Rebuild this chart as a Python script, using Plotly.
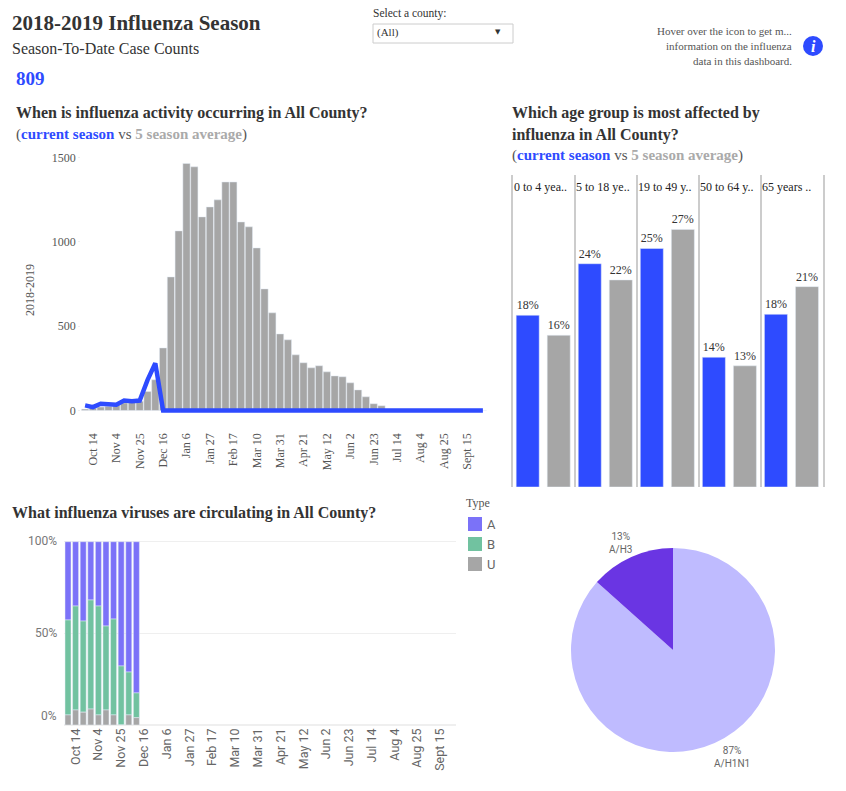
import plotly.graph_objects as go

PAGE_MARGIN = 8
W, H = 846 - 2 * PAGE_MARGIN, 791 - 2 * PAGE_MARGIN
SERIF = "Liberation Serif"
SANS = "Roboto"
BLUE = "#2E4BFF"
GREY = "#A6A6A6"
TYPE_COLORS = ["#7B72F8", "#71C2A0", GREY]

weeks = ["Oct 7", "Oct 14", "Oct 21", "Oct 28", "Nov 4", "Nov 11", "Nov 18", "Nov 25",
         "Dec 2", "Dec 9", "Dec 16", "Dec 23", "Dec 30", "Jan 6", "Jan 13", "Jan 20", "Jan 27",
         "Feb 3", "Feb 10", "Feb 17", "Feb 24", "Mar 3", "Mar 10", "Mar 17", "Mar 24", "Mar 31",
         "Apr 7", "Apr 14", "Apr 21", "Apr 28", "May 5", "May 12", "May 19", "May 26",
         "Jun 2", "Jun 9", "Jun 16", "Jun 23", "Jun 30", "Jul 7", "Jul 14", "Jul 21", "Jul 28",
         "Aug 4", "Aug 11", "Aug 18", "Aug 25", "Sept 1", "Sept 8", "Sept 15", "Sept 22", "Sept 29"]
week_ticks = ["Oct 14", "Nov 4", "Nov 25", "Dec 16", "Jan 6", "Jan 27", "Feb 17", "Mar 10", "Mar 31",
              "Apr 21", "May 12", "Jun 2", "Jun 23", "Jul 14", "Aug 4", "Aug 25", "Sept 15"]

avg_cases = [8, 14, 20, 25, 35, 45, 55, 55, 112, 182, 371, 792, 1065, 1465, 1445, 1148, 1207,
             1249, 1355, 1355, 1118, 1089, 964, 721, 579, 454, 419, 330, 283, 253, 265, 229,
             205, 200, 164, 122, 81, 40, 28, 0, 0, 0, 0, 0, 0, 0, 0, 0, 0, 0, 0, 0]
cur_cases = [30, 20, 40, 34, 34, 59, 55, 59, 180, 280, 0, 0, 0, 0, 0, 0, 0, 0, 0, 0, 0, 0, 0, 0, 0, 0,
             0, 0, 0, 0, 0, 0, 0, 0, 0, 0, 0, 0, 0, 0, 0, 0, 0, 0, 0, 0, 0, 0, 0, 0, 0, 0]

age_groups = ["0 to 4 yea..", "5 to 18 ye..", "19 to 49 y..", "50 to 64 y..", "65 years .."]
age_current = [18.0, 23.4, 25.0, 13.6, 18.1]
age_average = [15.9, 21.7, 27.0, 12.7, 21.0]
age_current_text = ["18%", "24%", "25%", "14%", "18%"]
age_average_text = ["16%", "22%", "27%", "13%", "21%"]

virus_weeks = weeks[:10]
type_u = [5.5, 8.2, 7.0, 8.7, 5.5, 8.2, 5.5, 0.0, 5.5, 4.0]
type_b = [51.8, 56.7, 49.7, 59.5, 59.4, 45.8, 52.3, 32.2, 23.4, 13.5]
type_a = [42.7, 35.1, 43.3, 31.8, 35.1, 46.0, 42.2, 67.8, 71.1, 82.5]
base_b = type_u
base_a = [u + b for u, b in zip(type_u, type_b)]

subtypes = ["A/H1N1", "A/H3"]
subtype_share = [86.6, 13.4]
subtype_text = ["87%", "13%"]


# the page body sits 8px in, positions below are measured on the full window
def px(x):
    return (x - PAGE_MARGIN) / W


def py(y):
    return 1 - (y - PAGE_MARGIN) / H


def note(text, x, y, size, color="#333333", family=SERIF, anchor="left", angle=0):
    fig.add_annotation(text=text, x=px(x), y=py(y), xref="paper", yref="paper", showarrow=False,
                       xanchor=anchor, yanchor="middle", align=anchor, borderpad=0, borderwidth=0,
                       textangle=angle, font=dict(size=size, color=color, family=family))


fig = go.Figure()

# season chart
fig.add_trace(go.Bar(x=weeks, y=avg_cases, marker_color=GREY, width=0.93, showlegend=False,
                     xaxis="x", yaxis="y"))
fig.add_trace(go.Scatter(x=weeks, y=cur_cases, mode="lines", line=dict(color=BLUE, width=4.5),
                         showlegend=False, xaxis="x", yaxis="y"))

# age chart
fig.add_trace(go.Bar(x=age_groups, y=age_current, marker_color=BLUE, width=0.371, offset=-0.444,
                     text=age_current_text, textposition="outside", cliponaxis=False,
                     textfont=dict(size=12, color="#333333", family=SERIF), showlegend=False,
                     xaxis="x2", yaxis="y2"))
fig.add_trace(go.Bar(x=age_groups, y=age_average, marker_color=GREY, width=0.371, offset=0.056,
                     text=age_average_text, textposition="outside", cliponaxis=False,
                     textfont=dict(size=12, color="#333333", family=SERIF), showlegend=False,
                     xaxis="x2", yaxis="y2"))

# virus type chart
fig.add_trace(go.Bar(name="A", x=virus_weeks, y=type_a, base=base_a, marker_color=TYPE_COLORS[0], width=0.79,
                     showlegend=False, xaxis="x3", yaxis="y3"))
fig.add_trace(go.Bar(name="B", x=virus_weeks, y=type_b, base=base_b, marker_color=TYPE_COLORS[1], width=0.79,
                     showlegend=False, xaxis="x3", yaxis="y3"))
fig.add_trace(go.Bar(name="U", x=virus_weeks, y=type_u, marker_color=TYPE_COLORS[2], width=0.79,
                     showlegend=False, xaxis="x3", yaxis="y3"))

fig.add_trace(go.Pie(labels=subtypes, values=subtype_share, sort=False, direction="clockwise", rotation=0,
                     marker=dict(colors=["#BFBBFF", "#6A35E3"]), textinfo="none",
                     domain=dict(x=[px(571), px(775)], y=[py(752), py(548)]), showlegend=False))

shapes = [
    dict(type="rect", xref="paper", yref="paper", x0=px(373), x1=px(513), y0=py(43), y1=py(24),
         line=dict(color="#CCCCCC", width=1), fillcolor="white"),
    dict(type="circle", xref="paper", yref="paper", x0=px(803), x1=px(823), y0=py(56), y1=py(36),
         line=dict(width=0), fillcolor=BLUE),
]
for i, color in enumerate(TYPE_COLORS):
    shapes.append(dict(type="rect", xref="paper", yref="paper", x0=px(468), x1=px(482),
                       y0=py(531 + 20 * i), y1=py(517 + 20 * i), line=dict(width=0), fillcolor=color))

fig.update_layout(
    width=W, height=H, margin=dict(l=0, r=0, t=0, b=0), barmode="overlay",
    paper_bgcolor="white", plot_bgcolor="white", font=dict(family=SERIF, color="#555555"),
    xaxis=dict(domain=[px(81.2), px(486.8)], range=[-0.5, 51.5], categoryorder="array", categoryarray=weeks,
               tickmode="array", tickvals=week_ticks, ticktext=week_ticks, tickangle=-90,
               tickfont=dict(size=12, color="#555555"), showgrid=False, showline=False,
               ticks="outside", ticklen=14, tickcolor="white", automargin=False),
    yaxis=dict(domain=[py(413.5), py(155)], range=[-18, 1515], tickvals=[0, 500, 1000, 1500],
               tickfont=dict(size=12, color="#555555"), showgrid=False, zeroline=False,
               ticks="outside", ticklen=2, tickcolor="#EEEEEE", automargin=False),
    xaxis2=dict(domain=[px(512.7), px(823)], range=[-0.5, 4.5], categoryorder="array", categoryarray=age_groups,
                tickson="boundaries", showgrid=True, gridcolor="#CCCCCC", gridwidth=1.5,
                showticklabels=False, ticks="", showline=False, automargin=False),
    yaxis2=dict(domain=[py(487), py(175)], range=[0, 32.7], anchor="x2", automargin=False,
                showticklabels=False, ticks="", showgrid=False, zeroline=False,
                showline=True, mirror=True, linecolor="#CCCCCC", linewidth=1.5),
    xaxis3=dict(domain=[px(64.2), px(456)], range=[-0.5, 51.08], categoryorder="array", categoryarray=weeks,
                tickmode="array", tickvals=week_ticks, ticktext=week_ticks, tickangle=-90, anchor="y3",
                tickfont=dict(size=12.5, color="#666666", family=SANS), showgrid=False, showline=False,
                ticks="", automargin=False),
    yaxis3=dict(domain=[py(725), py(539.9)], range=[0, 101], tickvals=[0, 50, 100], showticklabels=False,
                anchor="x3", ticks="", gridcolor="#EFEFEF", zerolinecolor="#EFEFEF", automargin=False),
    shapes=shapes,
)

note("<b>2018-2019 Influenza Season</b>", 12, 23, 21)
note("Season-To-Date Case Counts", 12, 48, 16)
note("<b>809</b>", 16, 78, 19, BLUE)

note("Select a county:", 373, 13, 11.5)
note("(All)", 377, 33, 11)
note("▼", 498, 32, 7, "#333333", "DejaVu Sans", "center")

note("Hover over the icon to get m...", 792, 31, 11, "#555555", anchor="right")
note("information on the influenza", 792, 46, 11, "#555555", anchor="right")
note("data in this dashboard.", 792, 61, 11, "#555555", anchor="right")
note("<b><i>i</i></b>", 813, 46, 16, "white", anchor="center")

compare = ('(<span style="color:%s"><b>current season</b></span> vs '
           '<span style="color:#AAAAAA"><b>5 season average</b></span>)' % BLUE)
note("<b>When is influenza activity occurring in All County?</b>", 16, 113, 16)
note(compare, 16, 134, 15, "#555555")
note("<b>Which age group is most affected by</b>", 512, 113, 16)
note("<b>influenza in All County?</b>", 512, 135, 16)
note(compare, 512, 156, 15, "#555555")
note("<b>What influenza viruses are circulating in All County?</b>", 12, 513, 16)

note("2018-2019", 30, 290, 12, "#555555", anchor="center", angle=-90)

# the 0% label sits above its line in the reference
note("100%", 57, 541, 12, "#777777", SANS, "right")
note("50%", 57, 633, 12, "#777777", SANS, "right")
note("0%", 57, 716, 12, "#777777", SANS, "right")

note("Type", 466, 503, 12, "#555555")
for i, name in enumerate(["A", "B", "U"]):
    note(name, 487, 524 + 20 * i, 13, "#666666", SANS)

note("%s<br>%s" % (subtype_text[1], subtypes[1]), 620, 543, 10, "#666666", SANS, "center")
note("%s<br>%s" % (subtype_text[0], subtypes[0]), 732, 757, 10, "#666666", SANS, "center")

for group in age_groups:
    fig.add_annotation(text=group, x=group, y=31.4, xref="x2", yref="y2", showarrow=False,
                       xanchor="left", xshift=-30, borderpad=0, borderwidth=0,
                       font=dict(size=12, color="#222222", family=SERIF))

fig.write_html("out.html")
